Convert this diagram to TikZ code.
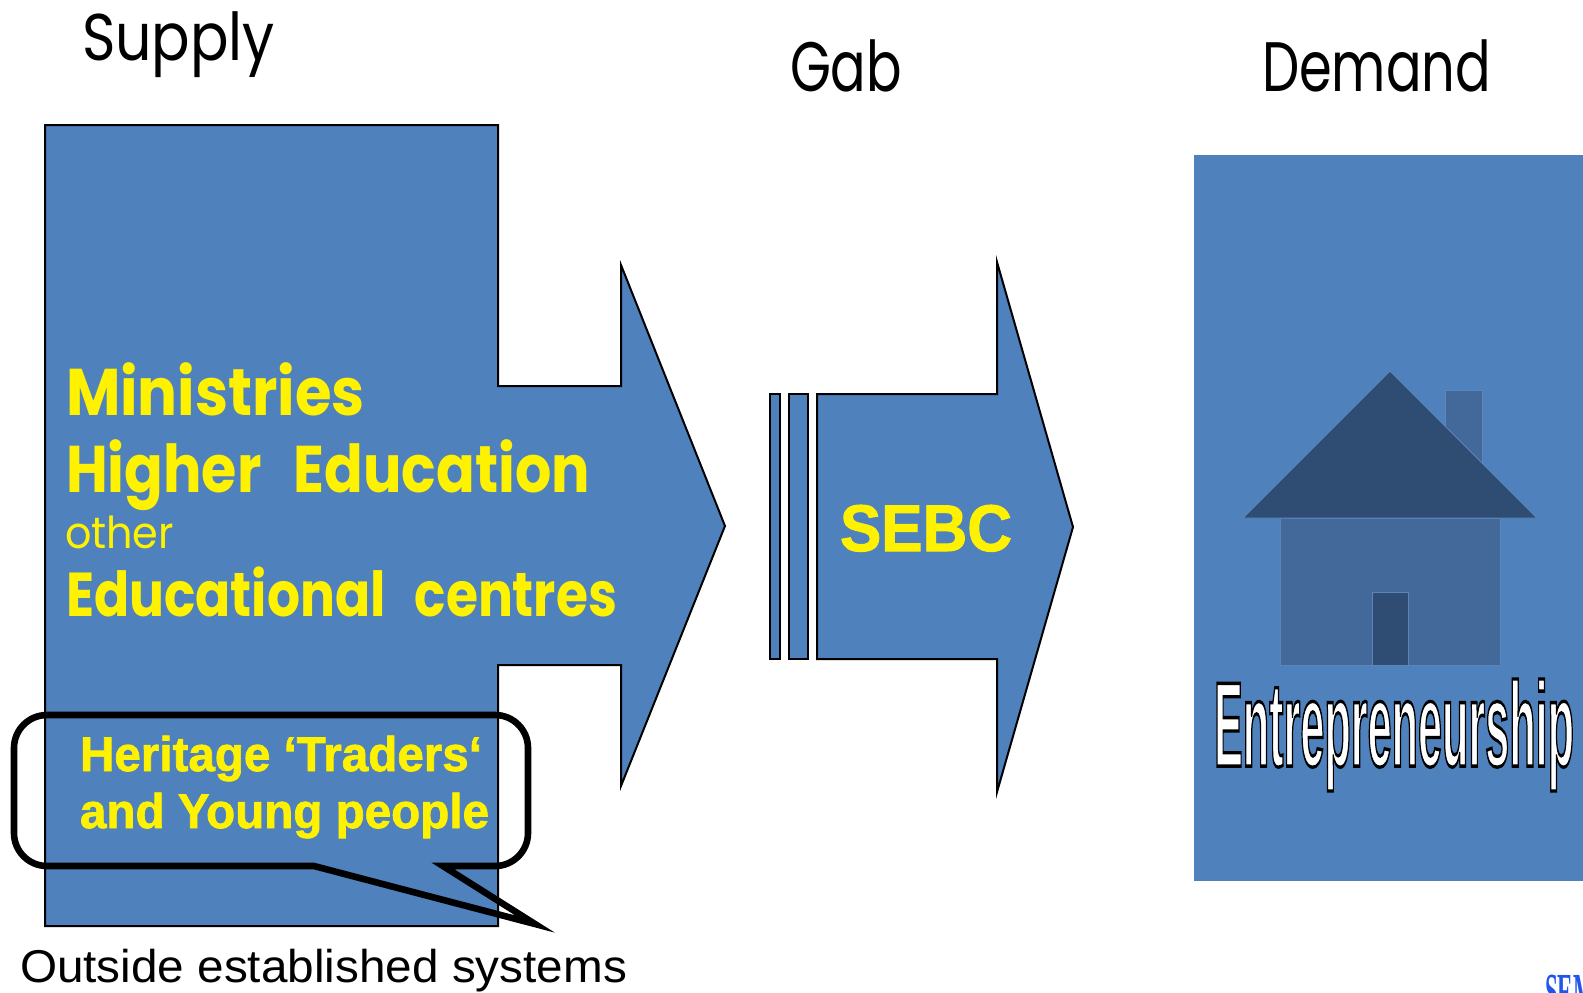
\documentclass[tikz,border=0pt]{standalone}
\usepackage{fontspec}
\usepackage{graphicx}
\setmainfont{Liberation Sans}
\newfontfamily\comicfont{Poppins}
\newfontfamily\serifcond{Liberation Serif}
\newfontfamily\heavyfont{Liberation Sans}[BoldFeatures={FakeBold=1.5}]
\newfontfamily\outlinefont{Liberation Sans}[BoldFeatures={FakeBold=2.8}]
\definecolor{panel}{HTML}{4F81BD}
\definecolor{roofc}{HTML}{2F4D73}
\definecolor{bodyc}{HTML}{426999}
\definecolor{edgec}{HTML}{5C86B8}
\definecolor{semblue}{HTML}{2255EE}
\newcommand{\fitw}[2]{\resizebox{#1}{\height}{#2}}
\tikzset{
  blueshape/.style={fill=panel,draw=black,line width=1pt,miter limit=20},
  lbl/.style={anchor=base west,inner sep=0pt,outer sep=0pt},
  yel/.style={lbl,text=yellow},
  house/.style={draw=edgec,line width=0.4pt}
}
\begin{document}
\begin{tikzpicture}[x=0.5pt,y=-0.5pt]
\useasboundingbox (0,0) rectangle (1583,992);
% supply arrow
\draw[blueshape] (45,125) -- (498,125) -- (498,386) -- (621,386) -- (621,265) -- (725,526) -- (621,786) -- (621,665) -- (498,665) -- (498,926) -- (45,926) -- cycle;
% SEBC arrow
\draw[blueshape] (770,394) rectangle (780,659);
\draw[blueshape] (789,394) rectangle (808,659);
\draw[blueshape] (817,394) -- (997,394) -- (997,262) -- (1073,527) -- (997,792) -- (997,659) -- (817,659) -- cycle;
% demand panel
\fill[panel] (1194,155) rectangle (1583,881);
% house
\fill[bodyc,house] (1445,390) rectangle (1482,480);
\fill[bodyc,house] (1280,518) rectangle (1500,665);
\fill[roofc,house] (1390,371) -- (1537,518) -- (1243,518) -- cycle;
\fill[roofc,house] (1372,592) rectangle (1408,665);
% callout
\draw[line width=3.3pt,miter limit=30,line join=miter] (47,715) -- (495,715) arc[start angle=-90,end angle=0,radius=33] -- (528,833) arc[start angle=0,end angle=90,radius=33] -- (443,866) -- (535,924) -- (314,866) -- (47,866) arc[start angle=90,end angle=180,radius=33] -- (14,748) arc[start angle=180,end angle=270,radius=33] -- cycle;
% labels
\node[lbl] (supply) at (82,60) {\fitw{96.5pt}{\comicfont\fontsize{33}{33}\selectfont Supply}};
\node[lbl] (gab) at (790,91) {\fitw{56pt}{\comicfont\fontsize{35}{35}\selectfont Gab}};
\node[lbl] (demand) at (1262,91) {\fitw{114.5pt}{\comicfont\fontsize{35}{35}\selectfont Demand}};
\node[yel] (min) at (66,415) {\fitw{149.5pt}{\comicfont\bfseries\fontsize{33}{33}\selectfont Ministries}};
\node[yel] (high) at (66,492) {\fitw{262pt}{\comicfont\bfseries\fontsize{33}{33}\selectfont Higher\hspace{0.35em} Education}};
\node[yel] (other) at (65,548) {\fitw{54.5pt}{\comicfont\fontsize{22}{22}\selectfont other}};
\node[yel] (edu) at (66,616) {\fitw{275.5pt}{\comicfont\bfseries\fontsize{31}{31}\selectfont Educational\hspace{0.35em} centres}};
\node[yel] (sebc) at (840,551) {\fitw{86pt}{\heavyfont\bfseries\fontsize{33}{33}\selectfont SEBC}};
\node[yel] (her) at (80,771) {\fitw{201pt}{\heavyfont\bfseries\fontsize{24.4}{24.4}\selectfont Heritage ‘Traders‘}};
\node[yel] (young) at (80,828) {\fitw{204.5pt}{\heavyfont\bfseries\fontsize{24.4}{24.4}\selectfont and Young people}};
\node[lbl] (outside) at (20,982) {\fitw{303.5pt}{\fontsize{23}{23}\selectfont Outside established systems}};
% entrepreneurship
\node[inner sep=0pt] (ent) at (1394,735) {\resizebox*{180pt}{56pt}{\special{pdf:bcolor [1] [0]}\outlinefont\bfseries\fontsize{40}{40}\selectfont Entrepreneurship\special{pdf:ecolor}}};
% cut off mark
\begin{scope}
\clip (1500,950) rectangle (1583,992);
\node[lbl,text=semblue] (sem) at (1545,1009) {\resizebox{25pt}{\height}{\serifcond\bfseries\fontsize{26}{26}\selectfont SEM}};
\end{scope}
\end{tikzpicture}
\end{document}
